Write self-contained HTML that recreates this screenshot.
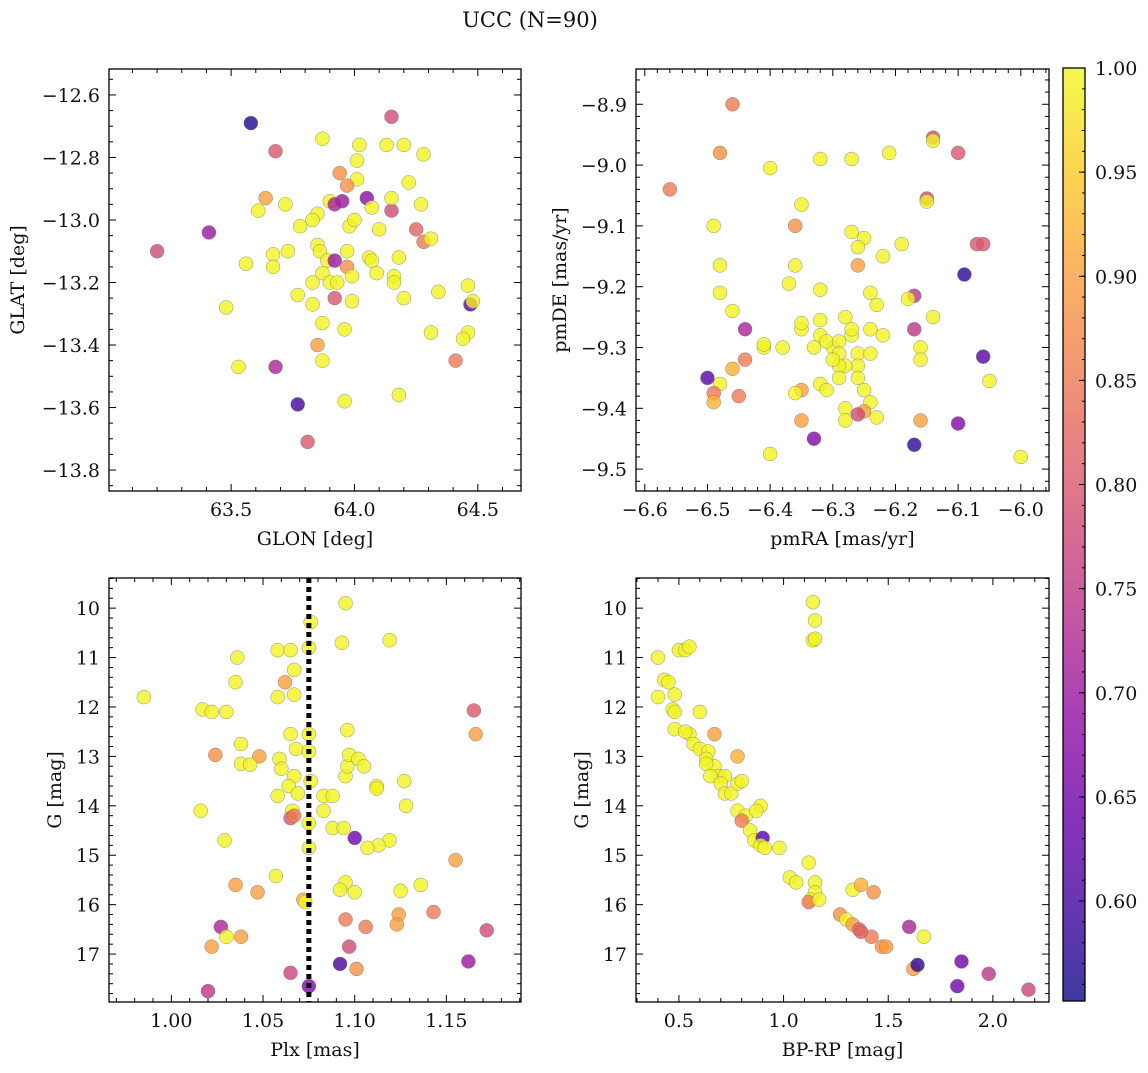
<!DOCTYPE html>
<html><head><meta charset="utf-8">
<style>
html,body{margin:0;padding:0;background:#fff;}
svg text{font-family:"DejaVu Serif","Liberation Serif",serif;fill:#111;}
</style></head>
<body>
<svg id="fig" width="1148" height="1068" viewBox="0 0 1148 1068" xmlns="http://www.w3.org/2000/svg">
<text x="530" y="27" font-size="21" text-anchor="middle">UCC (N=90)</text>
</svg>
<script>
// ---- data ----
const p1Glon=[63.58,64.15,63.68,63.87,64.02,64.13,64.20,64.28,64.01,63.94,64.01,64.22,63.97,63.64,63.72,63.61,63.78,63.85,63.90,63.95,63.92,64.05,64.07,64.15,64.15,64.27,63.20,63.41,63.83,63.98,64.10,64.25,64.28,64.31,63.67,63.73,63.85,63.86,63.97,64.06,64.07,64.18,63.56,63.67,63.89,63.92,63.87,63.97,63.90,63.93,64.09,64.16,64.16,63.83,63.99,64.34,64.46,64.47,64.48,63.77,63.83,63.92,63.99,64.20,63.48,63.87,63.96,64.31,64.46,64.44,64.41,63.53,63.68,63.85,63.87,64.18,63.96,63.77,63.81,64.00];
const p1Glat=[-12.69,-12.67,-12.78,-12.74,-12.76,-12.76,-12.76,-12.79,-12.81,-12.85,-12.87,-12.88,-12.89,-12.93,-12.95,-12.97,-13.02,-12.98,-12.94,-12.94,-12.95,-12.93,-12.96,-12.97,-12.93,-12.95,-13.10,-13.04,-13.00,-13.02,-13.03,-13.03,-13.07,-13.06,-13.11,-13.10,-13.08,-13.10,-13.10,-13.12,-13.13,-13.12,-13.14,-13.15,-13.13,-13.13,-13.17,-13.15,-13.20,-13.20,-13.17,-13.18,-13.20,-13.20,-13.18,-13.23,-13.21,-13.27,-13.26,-13.24,-13.27,-13.25,-13.26,-13.25,-13.28,-13.33,-13.35,-13.36,-13.36,-13.38,-13.45,-13.47,-13.47,-13.40,-13.45,-13.56,-13.58,-13.59,-13.71,-13.00];
const p1C=[.57,.78,.80,.995,.995,.995,.995,.995,.995,.88,.995,.995,.88,.90,.995,.995,.995,.995,.995,.70,.72,.68,.995,.78,.995,.995,.78,.70,.995,.995,.995,.82,.85,.995,.995,.995,.995,.995,.995,.995,.995,.995,.995,.995,.995,.70,.995,.88,.995,.995,.995,.995,.995,.995,.995,.995,.995,.62,.995,.995,.995,.80,.995,.995,.995,.995,.995,.995,.995,.995,.85,.995,.72,.90,.995,.995,.995,.60,.80,.995];

const p2Pmra=[-6.46,-6.56,-6.48,-6.40,-6.32,-6.21,-6.09,-6.35,-6.15,-6.15,-6.49,-6.36,-6.27,-6.25,-6.26,-6.07,-6.48,-6.36,-6.22,-6.26,-6.19,-6.48,-6.37,-6.32,-6.24,-6.23,-6.10,-6.17,-6.18,-6.14,-6.46,-6.44,-6.35,-6.35,-6.32,-6.32,-6.30,-6.28,-6.27,-6.27,-6.24,-6.22,-6.38,-6.41,-6.41,-6.33,-6.31,-6.29,-6.29,-6.26,-6.26,-6.24,-6.28,-6.29,-6.32,-6.31,-6.29,-6.26,-6.25,-6.24,-6.28,-6.28,-6.25,-6.23,-6.35,-6.36,-6.30,-6.44,-6.46,-6.48,-6.50,-6.49,-6.49,-6.45,-6.35,-6.40,-6.33,-6.26,-6.16,-6.10,-6.17,-6.00,-6.05,-6.06,-6.17,-6.16,-6.16,-6.14,-6.14,-6.06,-6.27];
const p2Pmde=[-8.90,-9.04,-8.98,-9.005,-8.99,-8.98,-9.18,-9.065,-9.055,-9.06,-9.10,-9.10,-9.11,-9.12,-9.135,-9.13,-9.165,-9.165,-9.15,-9.165,-9.13,-9.21,-9.195,-9.205,-9.21,-9.23,-8.98,-9.215,-9.22,-9.25,-9.24,-9.27,-9.27,-9.26,-9.255,-9.28,-9.30,-9.25,-9.28,-9.27,-9.27,-9.28,-9.30,-9.30,-9.295,-9.30,-9.29,-9.29,-9.31,-9.31,-9.33,-9.31,-9.33,-9.33,-9.36,-9.37,-9.35,-9.35,-9.37,-9.39,-9.40,-9.42,-9.405,-9.415,-9.37,-9.375,-9.32,-9.32,-9.335,-9.36,-9.35,-9.375,-9.39,-9.38,-9.42,-9.475,-9.45,-9.41,-9.42,-9.425,-9.46,-9.48,-9.355,-9.315,-9.27,-9.30,-9.32,-8.955,-8.96,-9.13,-8.99];
const p2C=[.85,.85,.88,.995,.995,.995,.58,.995,.78,.995,.995,.88,.995,.995,.995,.80,.995,.995,.995,.90,.995,.995,.995,.995,.995,.995,.80,.75,.995,.995,.995,.72,.995,.995,.995,.995,.995,.995,.995,.995,.995,.995,.995,.995,.995,.995,.995,.995,.995,.995,.995,.995,.995,.995,.995,.995,.995,.995,.995,.995,.995,.995,.90,.995,.90,.995,.995,.85,.92,.995,.62,.85,.92,.85,.90,.995,.67,.78,.90,.67,.58,.995,.995,.62,.75,.995,.995,.78,.995,.80,.995];

const p3Plx=[1.095,1.076,1.093,1.119,1.058,1.065,1.075,1.036,1.067,1.062,1.035,1.067,1.058,0.985,1.017,1.022,1.030,1.165,1.065,1.075,1.096,1.166,1.038,1.068,1.075,1.024,1.048,1.038,1.043,1.059,1.060,1.067,1.064,1.076,1.095,1.096,1.097,1.102,1.105,1.112,1.112,1.127,1.128,1.058,1.069,1.066,1.083,1.088,1.016,1.083,1.088,1.094,1.065,1.067,1.075,1.029,1.100,1.119,1.113,1.107,1.075,1.057,1.095,1.092,1.100,1.125,1.136,1.155,1.035,1.047,1.072,1.073,1.095,1.106,1.124,1.123,1.143,1.172,1.027,1.022,1.038,1.030,1.097,1.101,1.092,1.065,1.075,1.020,1.162];
const p3G=[9.9,10.28,10.7,10.65,10.85,10.85,10.8,11.0,11.25,11.5,11.5,11.75,11.8,11.8,12.05,12.1,12.1,12.07,12.55,12.55,12.47,12.55,12.75,12.85,12.9,12.97,13.0,13.15,13.17,13.05,13.25,13.4,13.6,13.5,13.4,13.2,12.97,13.05,13.2,13.6,13.65,13.5,14.0,13.8,13.75,14.1,13.8,13.8,14.1,14.1,14.45,14.45,14.25,14.2,14.35,14.7,14.65,14.7,14.8,14.85,14.85,15.42,15.55,15.7,15.75,15.72,15.6,15.1,15.6,15.75,15.9,15.95,16.3,16.45,16.2,16.4,16.15,16.52,16.45,16.85,16.65,16.65,16.85,17.3,17.2,17.38,17.65,17.75,17.15];
const p3C=[.995,.995,.995,.995,.995,.995,.995,.995,.995,.90,.995,.995,.995,.995,.995,.995,.995,.80,.995,.995,.995,.90,.995,.995,.995,.88,.90,.995,.995,.995,.995,.995,.995,.995,.995,.995,.995,.995,.995,.995,.995,.995,.995,.995,.995,.995,.995,.995,.995,.995,.995,.995,.80,.85,.995,.995,.65,.995,.995,.995,.995,.995,.995,.995,.995,.995,.995,.90,.90,.90,.92,.995,.85,.85,.90,.90,.85,.78,.72,.90,.90,.995,.78,.88,.60,.77,.67,.75,.70];

const p4Bprp=[1.14,1.15,1.14,1.15,0.40,0.43,0.45,0.40,0.48,0.50,0.53,0.55,0.47,0.48,0.60,0.48,0.55,0.53,0.57,0.67,0.60,0.64,0.63,0.67,0.63,0.69,0.65,0.72,0.78,0.70,0.72,0.75,0.78,0.80,0.78,0.82,0.80,0.89,0.87,0.84,0.86,0.90,0.89,0.91,0.98,1.03,1.06,1.12,1.15,1.15,1.13,1.12,1.17,1.33,1.37,1.43,1.27,1.30,1.33,1.36,1.42,1.47,1.49,1.60,1.67,1.62,1.64,1.85,1.98,1.83,2.17,1.37];
const p4G=[9.88,10.25,10.65,10.62,11.0,11.45,11.5,11.8,11.75,10.85,10.85,10.78,12.05,12.1,12.1,12.45,12.55,12.5,12.75,12.55,12.85,12.9,13.05,13.2,13.15,13.4,13.4,13.4,13.0,13.55,13.75,13.75,13.55,13.5,14.1,14.2,14.3,14.0,14.1,14.5,14.7,14.65,14.8,14.85,14.85,15.45,15.55,15.15,15.55,15.75,15.9,15.95,15.9,15.7,15.6,15.75,16.2,16.3,16.4,16.5,16.65,16.85,16.85,16.45,16.65,17.3,17.22,17.15,17.4,17.65,17.72,16.55];
const p4C=[.995,.995,.995,.995,.995,.995,.995,.995,.995,.995,.995,.995,.995,.995,.995,.995,.995,.995,.995,.90,.995,.995,.995,.995,.995,.995,.995,.995,.92,.995,.995,.995,.995,.995,.995,.995,.85,.995,.995,.995,.995,.62,.995,.995,.995,.995,.995,.995,.995,.995,.995,.85,.995,.995,.92,.88,.88,.995,.90,.82,.85,.88,.90,.72,.995,.90,.58,.65,.75,.65,.77,.82];

const plxLine=[1.075];
const cbarTicks=[0.60,0.65,0.70,0.75,0.80,0.85,0.90,0.95,1.00];
const cMin=0.552, cMax=1.0;

// ---- helpers ----
const NS="http://www.w3.org/2000/svg";
const svg=document.getElementById('fig');
const FS=19;
function mk(tag,attrs,parent){const e=document.createElementNS(NS,tag);for(const k in attrs)e.setAttribute(k,attrs[k]);(parent||svg).appendChild(e);return e;}
const stops=[[0,[13,8,135]],[0.1,[65,4,157]],[0.2,[106,0,168]],[0.3,[143,13,164]],[0.4,[177,42,144]],[0.5,[204,71,120]],[0.6,[225,100,98]],[0.7,[242,132,75]],[0.8,[252,166,54]],[0.9,[252,206,37]],[1,[240,249,33]]];
function plasma(t){t=Math.max(0,Math.min(1,t));for(let i=1;i<stops.length;i++){if(t<=stops[i][0]){const a=stops[i-1],b=stops[i];const f=(t-a[0])/(b[0]-a[0]);const c=a[1].map((v,j)=>Math.round(v+(b[1][j]-v)*f));return `rgb(${c[0]},${c[1]},${c[2]})`;}}return 'rgb(240,249,33)';}
function fmt(v,d){const s=Math.abs(v).toFixed(d);return (v<0?'\u2212':'')+s;}

function panel(o){
  const g=mk('g',{});
  
  
  const sx=v=>o.l+(v-o.x0)/(o.x1-o.x0)*o.w;
  const sy=v=>o.t+(v-o.y0)/(o.y1-o.y0)*o.h;
  const pg=mk('g',{},g);
  
  
  for(let i=0;i<o.xs.length;i++){
    const c=mk('circle',{cx:sx(o.xs[i]),cy:sy(o.ys[i]),r:7,fill:plasma((o.cs[i]-cMin)/(cMax-cMin)),'fill-opacity':0.8,stroke:'#777','stroke-width':0.5,'stroke-opacity':0.8},pg);
    
    
  }
  if(o.vline){for(const v of o.vline){const ln=mk('line',{x1:sx(v),x2:sx(v),y1:o.t,y2:o.t+o.h,stroke:'#000','stroke-width':5,'stroke-dasharray':'5,4'},g);
    
    }}
  const fr=mk('rect',{x:o.l,y:o.t,width:o.w,height:o.h,fill:'none',stroke:'#000','stroke-width':1.3},g);
  
  
  const lo=(a,b)=>Math.min(a,b),hi=(a,b)=>Math.max(a,b);
  const xg=mk('g',{},g);
  
  
  for(let k=Math.ceil(lo(o.x0,o.x1)/o.xmin-1e-6);k*o.xmin<=hi(o.x0,o.x1)+1e-9;k++){
    const v=k*o.xmin;const X=sx(v);const major=Math.abs(v/o.xmaj-Math.round(v/o.xmaj))<1e-6;const L=major?7:4;
    mk('line',{x1:X,x2:X,y1:o.t+o.h,y2:o.t+o.h-L,stroke:'#000','stroke-width':1},xg);
    mk('line',{x1:X,x2:X,y1:o.t,y2:o.t+L,stroke:'#000','stroke-width':1},xg);
    if(major){const t=mk('text',{x:X,y:o.t+o.h+25,'font-size':FS,'text-anchor':'middle'},xg);t.textContent=fmt(v,o.xd);}
  }
  const xl=mk('text',{x:o.l+o.w/2,y:o.t+o.h+54,'font-size':FS,'text-anchor':'middle'},g);
  xl.textContent=o.xlabel;
  
  
  const yg=mk('g',{},g);
  
  
  for(let k=Math.ceil(lo(o.y0,o.y1)/o.ymin-1e-6);k*o.ymin<=hi(o.y0,o.y1)+1e-9;k++){
    const v=k*o.ymin;const Y=sy(v);const major=Math.abs(v/o.ymaj-Math.round(v/o.ymaj))<1e-6;const L=major?7:4;
    mk('line',{x1:o.l,x2:o.l+L,y1:Y,y2:Y,stroke:'#000','stroke-width':1},yg);
    mk('line',{x1:o.l+o.w,x2:o.l+o.w-L,y1:Y,y2:Y,stroke:'#000','stroke-width':1},yg);
    if(major){const t=mk('text',{x:o.l-9,y:Y+7,'font-size':FS,'text-anchor':'end'},yg);t.textContent=fmt(v,o.yd);}
  }
  const yl=mk('text',{x:0,y:0,'font-size':FS,'text-anchor':'middle',transform:`translate(${o.yl},${o.t+o.h/2}) rotate(-90)`},g);
  yl.textContent=o.ylabel;
  
  
}

panel({name:'glon-glat-panel',l:109,t:69,w:412,h:422,x0:63.005,x1:64.675,y0:-12.517,y1:-13.867,xs:p1Glon,ys:p1Glat,cs:p1C,xmaj:0.5,xmin:0.1,xd:1,ymaj:0.2,ymin:0.05,yd:1,xlabel:'GLON [deg]',ylabel:'GLAT [deg]',yl:24});
panel({name:'proper-motion-panel',l:636,t:69,w:413,h:422,x0:-6.614,x1:-5.955,y0:-8.842,y1:-9.536,xs:p2Pmra,ys:p2Pmde,cs:p2C,xmaj:0.1,xmin:0.02,xd:1,ymaj:0.1,ymin:0.02,yd:1,xlabel:'pmRA [mas/yr]',ylabel:'pmDE [mas/yr]',yl:566});
panel({name:'plx-g-panel',l:109,t:578,w:412,h:424,x0:0.966,x1:1.1907,y0:9.39,y1:17.97,xs:p3Plx,ys:p3G,cs:p3C,xmaj:0.05,xmin:0.01,xd:2,ymaj:1,ymin:0.2,yd:0,xlabel:'Plx [mas]',ylabel:'G [mag]',yl:61,vline:plxLine});
panel({name:'cmd-panel',l:636,t:578,w:413,h:424,x0:0.295,x1:2.268,y0:9.39,y1:17.97,xs:p4Bprp,ys:p4G,cs:p4C,xmaj:0.5,xmin:0.1,xd:1,ymaj:1,ymin:0.2,yd:0,xlabel:'BP-RP [mag]',ylabel:'G [mag]',yl:588});

(function(){
  const L=1063,T=68,W=22,H=933;
  const g=mk('g',{});
  
  
  const defs=mk('defs',{},g);
  const lg=mk('linearGradient',{id:'plg',x1:0,y1:1,x2:0,y2:0},defs);
  for(let i=0;i<=20;i++){mk('stop',{offset:i/20,'stop-color':plasma(i/20)},lg);}
  mk('rect',{x:L,y:T,width:W,height:H,fill:'url(#plg)','fill-opacity':0.8},g);
  mk('rect',{x:L,y:T,width:W,height:H,fill:'none',stroke:'#000','stroke-width':1.3},g);
  const sy=v=>T+H-(v-cMin)/(cMax-cMin)*H;
  for(let k=56;k<=100;k++){const v=k/100;const Y=sy(v);mk('line',{x1:L+W,x2:L+W-3,y1:Y,y2:Y,stroke:'#000','stroke-width':1},g);}
  for(const v of cbarTicks){const Y=sy(v);mk('line',{x1:L+W,x2:L+W-6,y1:Y,y2:Y,stroke:'#000','stroke-width':1},g);
    const t=mk('text',{x:L+W+10,y:Y+7,'font-size':FS},g);t.textContent=v.toFixed(2);}
})();
</script>
</body></html>
